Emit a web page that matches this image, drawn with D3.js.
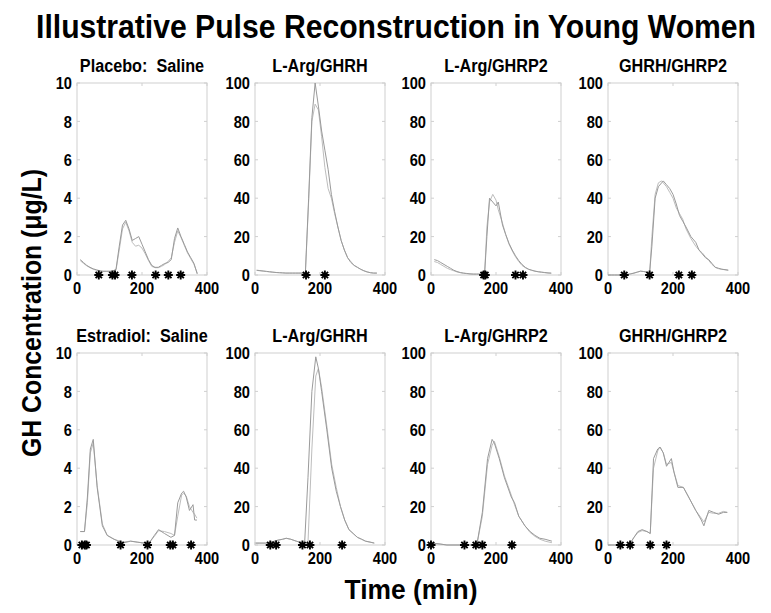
<!DOCTYPE html>
<html><head><meta charset="utf-8">
<script src="https://cdn.jsdelivr.net/npm/d3@7"></script>
<style>body{margin:0;background:#fff}svg{display:block}text{font-family:"Liberation Sans",Arial,sans-serif;font-weight:bold;fill:#000;white-space:pre}</style>
</head><body><svg id="c" width="771" height="613"></svg>
<script>
// ---- data ----
const panelTitles = ["Placebo:  Saline","L-Arg/GHRH","L-Arg/GHRP2","GHRH/GHRP2","Estradiol:  Saline","L-Arg/GHRH","L-Arg/GHRP2","GHRH/GHRP2"];
const yMaxes = [10,100,100,100,10,100,100,100];
const yTicksSmall = [0,2,4,6,8,10];
const yTicksLarge = [0,20,40,60,80,100];
const xTicks = [0,200,400];

const p1Time = [10,20,30,40,50,60,70,80,90,100,110,120,130,140,150,160,170,180,190,200,210,220,230,240,250,260,270,280,290,300,310,320,330,340,350,360,370];
const p1Obs  = [0.8,0.65,0.5,0.4,0.32,0.27,0.22,0.2,0.2,0.2,0.2,0.3,1.5,2.6,2.85,2.4,1.8,1.9,2.0,1.6,1.2,0.8,0.5,0.4,0.4,0.5,0.6,0.65,0.8,1.9,2.45,2.0,1.6,1.2,0.9,0.6,0.05];
const p1Fit  = [0.75,0.6,0.48,0.38,0.3,0.25,0.2,0.18,0.18,0.18,0.18,0.25,1.3,2.4,2.75,2.3,1.7,1.5,1.55,1.4,1.1,0.75,0.45,0.38,0.38,0.45,0.55,0.7,0.9,1.7,2.3,1.95,1.55,1.15,0.85,0.55,0.1];
const p1Pulses = [67,109,117,169,242,281,319];

const p2Time = [5,15,25,35,45,55,65,75,85,95,105,115,125,135,145,155,165,175,185,195,205,215,225,235,245,255,265,275,285,295,305,315,325,335,345,355,365,375];
const p2Obs  = [2.5,2.3,2.1,1.9,1.7,1.5,1.3,1.2,1.1,1.0,1.0,1.0,1.0,1.0,1.0,1.0,40,82,100,88,75,65,55,42,33,25,18,13,9,6.5,5,4,3,2.2,1.6,1.2,1.0,1.0];
const p2Fit  = [2.4,2.2,2.0,1.8,1.6,1.4,1.3,1.2,1.1,1.0,1.0,1.0,1.0,1.0,1.0,1.0,38,80,89,86,72,56,45,40,32,25,18,13,9,7,5,4,3,2.2,1.6,1.2,1.0,1.0];
const p2Pulses = [157,215];

const p3Time = [10,20,30,40,50,60,70,80,90,100,110,120,130,140,150,160,165,172,180,190,200,207,220,230,240,250,260,270,280,290,300,310,320,330,340,350,360,370];
const p3Obs  = [8,7.5,6.5,5.5,4.5,3.5,2.5,1.8,1.3,1.0,0.8,0.6,0.5,0.5,0.5,0.5,1,20,40,38,36,38,26,21,16.5,13,10,7.5,5.5,4,3,2.5,2,1.7,1.5,1.3,1.1,1.0];
const p3Fit  = [7,6.5,5.5,4.5,3.5,2.8,2.2,1.6,1.2,0.9,0.7,0.5,0.4,0.4,0.4,0.4,1,25,38,42,39,34,27,21,16,12.5,9.5,7,5,3.8,3,2.4,2,1.7,1.4,1.2,1.0,0.9];
const p3Pulses = [162,167,260,283];

const p4Time = [0,10,20,30,40,50,60,70,80,90,100,110,120,128,135,145,155,165,170,180,190,200,210,220,230,240,255,270,280,290,300,310,320,330,340,350,360,370];
const p4Obs  = [0,0,0,0,0,0,0.3,0.6,1,1.5,2,1.8,1.5,1,15,40,46,48,49,47,45,42,37,31,28,25,20,17,13,11,9,8,6,4,3.5,3,2.8,2.5];
const p4Fit  = [0,0,0,0,0,0,0.3,0.6,1,1.5,2,1.8,1.5,1,20,42,48,49,48,46,43,40,35,32,29,24,19,15,13,11.5,9.5,7.5,5.5,4,3.3,3,2.7,2.5];
const p4Pulses = [50,128,218,258];

const p5Time = [10,23,32,41,50,62,78,93,114,140,165,185,207,222,238,251,269,289,300,310,322,328,336,346,357,362,369];
const p5Obs  = [0.7,0.7,2.5,5.0,5.5,3.0,1.0,0.5,0.3,0.1,0.2,0.15,0.1,0.1,0.5,0.8,0.6,0.4,0.5,2.2,2.7,2.8,2.5,1.8,2.1,1.3,1.3];
const p5Fit  = [0.7,0.7,2.2,4.8,5.3,3.1,1.1,0.5,0.3,0.15,0.2,0.15,0.1,0.12,0.45,0.75,0.7,0.6,0.5,1.5,2.6,2.7,2.55,2.0,1.7,1.6,1.4];
const p5Pulses = [15,24,29,134,217,287,295,351];

const p6Time = [2,15,33,50,70,85,96,110,127,148,153,163,175,187,195,205,221,236,250,263,276,289,302,315,328,340,354,367];
const p6Obs  = [1,1,1,1.5,2.5,3,3.5,3,2,1,2,35,80,98,92,80,60,40,28,20,13,8,6,4,3,2,1.5,1];
const p6Fit  = [1,1,1,1.5,2.5,3,3.5,3,2,1,0.5,1,50,88,92,82,62,42,30,20,13,8,6,4,3,2,1.5,1];
const p6Pulses = [47,65,146,169,268];

const p7Time = [0,28,49,80,110,141,158,174,188,195,210,226,247,257,270,289,305,320,335,351,372];
const p7Obs  = [1,0.5,0,0,0,0,17,45,55,53,45,35,25,22,15,10,7,5,3.5,3,2];
const p7Fit  = [1,0.5,0,0,0,0,15,42,52,54,46,36,26,21,15,10,6.5,4.5,3,2,1.2];
const p7Pulses = [0,103,138,158,249];

const p8Time = [0,20,40,65,80,92,105,120,130,140,153,160,170,180,195,203,215,232,248,270,287,295,310,325,340,355,367];
const p8Obs  = [0,0,0,0,4,7,8,7,6,45,50,51,48,41,45,38,30,30,25,18,13,10,18,17,16,17,17];
const p8Fit  = [0,0,0,0,4,6.5,7.5,7,6,40,49,51,48,42,43,38,31,30,25,18,14,12,17,16.5,16.5,17.5,17];
const p8Pulses = [38,68,130,180];

const panelData = [
  {t:p1Time,a:p1Obs,b:p1Fit,p:p1Pulses},
  {t:p2Time,a:p2Obs,b:p2Fit,p:p2Pulses},
  {t:p3Time,a:p3Obs,b:p3Fit,p:p3Pulses},
  {t:p4Time,a:p4Obs,b:p4Fit,p:p4Pulses},
  {t:p5Time,a:p5Obs,b:p5Fit,p:p5Pulses},
  {t:p6Time,a:p6Obs,b:p6Fit,p:p6Pulses},
  {t:p7Time,a:p7Obs,b:p7Fit,p:p7Pulses},
  {t:p8Time,a:p8Obs,b:p8Fit,p:p8Pulses}
];

// ---- layout ----
const svg = d3.select("#c");
svg.append("rect").attr("width",771).attr("height",613).attr("fill","#fff");
const lefts = [77,255,431,608];
const tops = [83,353];
const W = 130, H = 192;

function condense(sel, f){
  sel.each(function(){ const L=this.getComputedTextLength(); d3.select(this).attr("textLength",L*f).attr("lengthAdjust","spacingAndGlyphs"); });
}

svg.append("text").attr("transform","translate(396,38) scale(1,1.25)").attr("text-anchor","middle")
  .style("font-size","26px").attr("textLength",720).attr("lengthAdjust","spacingAndGlyphs")
  .text("Illustrative Pulse Reconstruction in Young Women");

const yl = svg.append("text").attr("transform","translate(41,313) rotate(-90)").attr("text-anchor","middle").style("font-size","27px")
  .attr("textLength",288).attr("lengthAdjust","spacingAndGlyphs");
yl.append("tspan").text("GH Concentration (");
yl.append("tspan").text("μ");
yl.append("tspan").text("g/L)");

svg.append("text").attr("x",411).attr("y",599).attr("text-anchor","middle").style("font-size","27px")
  .attr("textLength",133).attr("lengthAdjust","spacingAndGlyphs").text("Time (min)");

function star(x,y,r){
  const d=r*0.7071;
  return `M${x-r},${y}L${x+r},${y}M${x},${y-r}L${x},${y+r}M${x-d},${y-d}L${x+d},${y+d}M${x-d},${y+d}L${x+d},${y-d}`;
}

panelData.forEach((pd,i)=>{
  const col=i%4,row=Math.floor(i/4);
  const x0=lefts[col],y0=tops[row];
  const g=svg.append("g").attr("transform",`translate(${x0},${y0})`);
  const x=d3.scaleLinear().domain([0,400]).range([0,W]);
  const y=d3.scaleLinear().domain([0,yMaxes[i]]).range([H,0]);
  const yt = yMaxes[i]===10?yTicksSmall:yTicksLarge;
  g.append("rect").attr("width",W).attr("height",H).attr("fill","none").attr("stroke","#cfcfcf").attr("stroke-width",1);
  yt.forEach(v=>{
    g.append("line").attr("x1",0).attr("x2",3).attr("y1",y(v)).attr("y2",y(v)).attr("stroke","#cfcfcf");
    g.append("line").attr("x1",W-3).attr("x2",W).attr("y1",y(v)).attr("y2",y(v)).attr("stroke","#cfcfcf");
  });
  xTicks.forEach(v=>{
    g.append("line").attr("x1",x(v)).attr("x2",x(v)).attr("y1",H).attr("y2",H-3).attr("stroke","#cfcfcf");
    g.append("line").attr("x1",x(v)).attr("x2",x(v)).attr("y1",0).attr("y2",3).attr("stroke","#cfcfcf");
  });
  const ytl = g.selectAll(".yl").data(yt).enter().append("text").attr("x",-5).attr("y",d=>y(d)).attr("dy","0.36em")
    .attr("text-anchor","end").style("font-size","17px").text(d=>d);
  condense(ytl,0.86);
  const xtl = g.selectAll(".xl").data(xTicks).enter().append("text").attr("x",d=>x(d)).attr("y",H+19)
    .attr("text-anchor","middle").style("font-size","17px").text(d=>d);
  condense(xtl,0.86);
  const tt = g.append("text").attr("x",W/2).attr("y",-11).attr("text-anchor","middle").style("font-size","18px").text(panelTitles[i]);
  condense(tt,0.9);
  const lineA=d3.line().x((d,k)=>x(pd.t[k])).y(d=>y(d));
  g.append("path").attr("d",lineA(pd.b)).attr("fill","none").attr("stroke","#bdbdbd").attr("stroke-width",1);
  g.append("path").attr("d",lineA(pd.a)).attr("fill","none").attr("stroke","#9a9a9a").attr("stroke-width",1);
  g.selectAll(".st").data(pd.p).enter().append("path").attr("d",d=>star(x(d),H,4.5))
    .attr("stroke","#000").attr("stroke-width",1.9).attr("fill","none");
});
</script></body></html>
